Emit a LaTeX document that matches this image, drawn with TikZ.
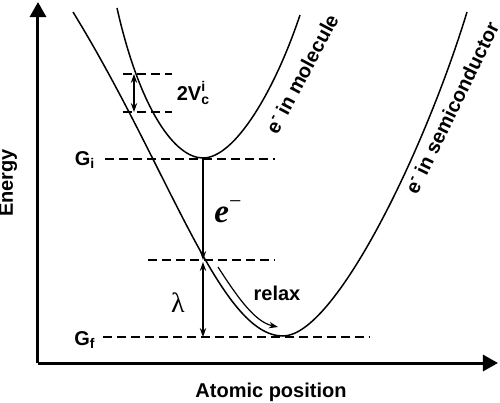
\documentclass[tikz,border=0pt]{standalone}
\usepackage{fontspec}
\setmainfont{Liberation Sans}
\newfontfamily\serifface{Liberation Serif}
\usetikzlibrary{arrows.meta}

\newcommand{\elsup}{\raisebox{0.75ex}{\fontsize{7.5}{8}\selectfont -}}

\begin{document}
\begin{tikzpicture}[x=0.5pt, y=-0.5pt,
  every node/.style={font=\fontsize{10}{11}\selectfont\bfseries, inner sep=1pt},
  axis/.style={line width=1.5pt, -{Triangle[length=7.5pt,width=8pt]}},
  curve/.style={line width=0.75pt},
  level/.style={line width=1pt, dash pattern=on 4.5pt off 2.5pt},
  trans/.style={line width=0.6pt, -{Stealth[length=4.5pt,width=3.2pt]}},
  twoway/.style={trans, {Stealth[length=4.5pt,width=3.2pt]}-{Stealth[length=4.5pt,width=3.2pt]}}
]
\useasboundingbox (0,0) rectangle (500,403);

% axes
\coordinate (origin) at (38,363);
\coordinate (etop) at (38,2);
\coordinate (xend) at (498,363);
\draw[axis] (origin) -- (etop);
\draw[axis] (origin) -- (xend);
\node[rotate=90] (energy) at (8,183) {Energy};
\node (atpos) at (271,392) {Atomic position};

% potential curves
\coordinate (imin) at (203,158);
\coordinate (fmin) at (283,336);
\draw[curve] (117,8) .. controls (140,110) and (175,158) .. (imin)
  .. controls (235,158) and (275,90) .. (300,15);
\draw[curve] (73,12) .. controls (170,170) and (220,336) .. (fmin)
  .. controls (335,336) and (425,150) .. (467,12);

\node[rotate=62] (molec) at (302,74) {e\elsup\ in molecule};
\node[rotate=64] (semic) at (452,108) {e\elsup\ in semiconductor};

% levels
\coordinate (cu1) at (123,74);  \coordinate (cu2) at (172,74);
\coordinate (cl1) at (123,112); \coordinate (cl2) at (172,112);
\coordinate (gi1) at (105,159); \coordinate (gi2) at (275,159);
\coordinate (gm1) at (148,260); \coordinate (gm2) at (275,260);
\coordinate (gf1) at (103,337); \coordinate (gf2) at (370,337);
\draw[level] (cu1) -- (cu2);
\draw[level] (cl1) -- (cl2);
\draw[level] (gi1) -- (gi2);
\draw[level] (gm1) -- (gm2);
\draw[level] (gf1) -- (gf2);

\node (gi) at (85,160) {G\textsubscript{i}};
\node (gf) at (85,340) {G\textsubscript{f}};

% transitions
\coordinate (vtop) at (134,74);
\coordinate (vbot) at (134,112);
\coordinate (cross) at (203,260);
\coordinate (lamtop) at (203,262);
\coordinate (gfpt) at (203,337);
\coordinate (rstart) at (218,267);
\coordinate (rend) at (278,327);
\draw[twoway] (vtop) -- (vbot);
\draw[trans] (imin) -- (cross);
\draw[twoway] (lamtop) -- (gfpt);
\draw[trans] (rstart) .. controls (238,298) and (255,322) .. (rend);

\node (coup) at (193,93) {2V\rlap{\raisebox{0.8ex}{\fontsize{7}{7}\selectfont i}}\raisebox{-0.4ex}{\fontsize{7}{7}\selectfont c}};
\node (eminus) at (228,212)
  {\serifface\fontsize{16.5}{17}\selectfont\bfseries\itshape e\raisebox{0.9ex}{\mdseries\upshape\fontsize{11}{11}\selectfont −}};
\node (lam) at (178,303) {\serifface\fontsize{14}{14}\selectfont\mdseries λ};
\node (relax) at (277,293) {relax};
\end{tikzpicture}
\end{document}
